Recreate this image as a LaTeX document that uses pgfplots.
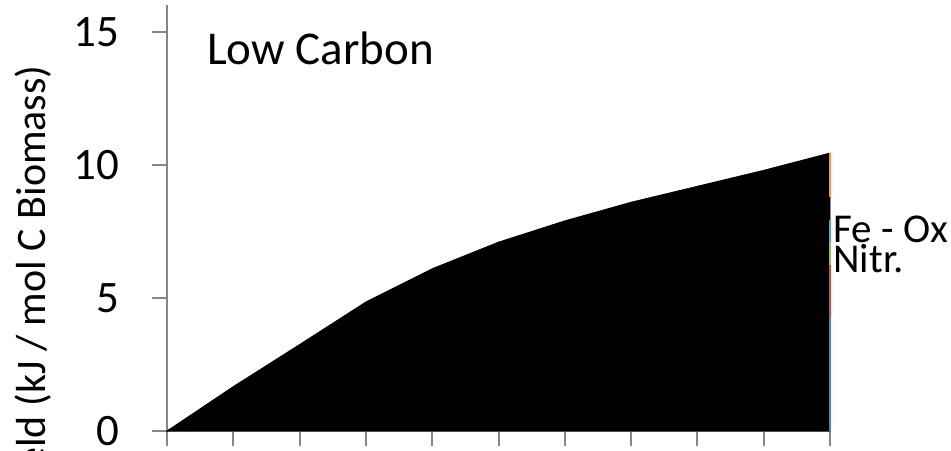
\documentclass[border=0pt]{standalone}
\usepackage{pgfplots}
\pgfplotsset{compat=1.18}
\usepackage{fontspec}
\setmainfont{Carlito}
\definecolor{axgray}{HTML}{868686}
\definecolor{sblue}{HTML}{4F81BD}
\definecolor{sred}{HTML}{C0504D}
\definecolor{sgreen}{HTML}{9BBB59}
\definecolor{saqua}{HTML}{4BACC6}
\definecolor{sorange}{HTML}{F79646}
\pgfplotsset{
  common/.style={
    at={(83.5pt,9.5pt)}, anchor=south west,
    scale only axis, width=331.5pt, height=212.8pt,
    xmin=0, xmax=10, ymin=0, ymax=16,
    clip=false,
  },
  blk/.style={fill=black, draw=black, line width=0.4pt, line join=round},
}
\begin{document}
\begin{tikzpicture}
\path[use as bounding box, clip] (0,0) rectangle (475.5pt,225pt);
\begin{axis}[
  common,
  axis x line*=bottom, axis y line*=left,
  axis line style={draw=axgray, line width=1pt, -},
  tick align=outside, major tick length=7.5pt,
  tick style={draw=axgray, line width=1pt},
  xtick={0,1,2,3,4,5,6,7,8,9,10}, xticklabels={},
  ytick={0,5,10,15},
  /pgf/number format/assume math mode=true,
  yticklabel style={font=\fontsize{22.5}{27}\selectfont, inner sep=0pt, xshift=-16pt},
  stack plots=y,
]
\addplot[blk] coordinates {(0,0) (1,0.685) (2,1.333) (3,1.99) (4,2.50) (5,2.91) (6,3.24) (7,3.53) (8,3.77) (9,4.02) (10,4.29)} \closedcycle;
\addplot[blk] coordinates {(0,0) (1,0.312) (2,0.608) (3,0.907) (4,1.14) (5,1.33) (6,1.48) (7,1.61) (8,1.72) (9,1.83) (10,1.95)} \closedcycle;
\addplot[blk] coordinates {(0,0) (1,0.132) (2,0.257) (3,0.383) (4,0.48) (5,0.56) (6,0.62) (7,0.68) (8,0.73) (9,0.77) (10,0.83)} \closedcycle;
\addplot[blk] coordinates {(0,0) (1,0.137) (2,0.267) (3,0.398) (4,0.50) (5,0.58) (6,0.65) (7,0.71) (8,0.75) (9,0.80) (10,0.86)} \closedcycle;
\addplot[blk] coordinates {(0,0) (1,0.139) (2,0.270) (3,0.403) (4,0.51) (5,0.59) (6,0.66) (7,0.71) (8,0.76) (9,0.81) (10,0.87)} \closedcycle;
\addplot[blk] coordinates {(0,0) (1,0.265) (2,0.515) (3,0.769) (4,0.97) (5,1.13) (6,1.25) (7,1.36) (8,1.47) (9,1.57) (10,1.65)} \closedcycle;
\node[anchor=base west, inner sep=0pt, font=\fontsize{23.5}{28}\selectfont] at (axis cs:0.6,13.76) {Low Carbon};
\end{axis}
\begin{axis}[common, hide axis]
\addplot[sblue, line width=1pt] coordinates {(10,0) (10,4.29)};
\addplot[sred, line width=1pt] coordinates {(10,4.29) (10,6.24)};
\addplot[sgreen, line width=1pt] coordinates {(10,6.24) (10,7.07)};
\addplot[saqua, line width=1pt] coordinates {(10,7.07) (10,7.93)};
\addplot[sorange, line width=1pt] coordinates {(10,8.80) (10,10.45)};
\node[anchor=base west, inner sep=0pt, xshift=1.5pt, font=\fontsize{20.5}{24}\selectfont] at (axis cs:10,7.07) {Fe - Ox};
\node[anchor=base west, inner sep=0pt, xshift=1.5pt, font=\fontsize{20.5}{24}\selectfont] at (axis cs:10,5.95) {Nitr.};
\end{axis}
\node[rotate=90, anchor=east, inner sep=0pt, font=\fontsize{21}{25}\selectfont] at (16.5pt,192.5pt) {Yield (kJ / mol C Biomass)};
\end{tikzpicture}
\end{document}
